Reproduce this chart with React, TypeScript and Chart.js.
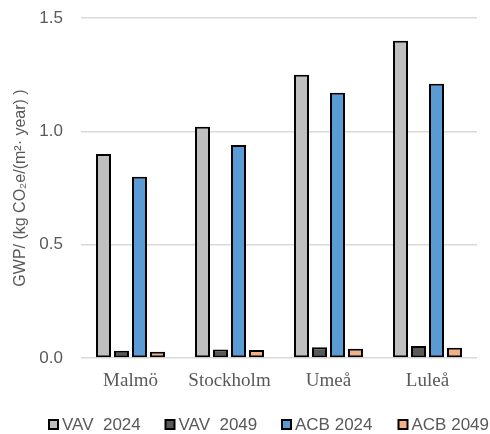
import React, { useEffect, useRef } from "react";
import { Chart, registerables } from "chart.js";

Chart.register(...registerables);

// Cities and GWP per system / year (kg CO2e per m² and year)
const cities = ["Malmö", "Stockholm", "Umeå", "Luleå"];
const seriesNames = ["VAV  2024", "VAV  2049", "ACB 2024", "ACB 2049"];
const vav2024 = [0.9, 1.02, 1.25, 1.4];
const vav2049 = [0.032, 0.037, 0.047, 0.053];
const acb2024 = [0.8, 0.94, 1.17, 1.21];
const acb2049 = [0.028, 0.035, 0.041, 0.045];
const seriesColors = ["#BFBFBF", "#595959", "#5B9BD5", "#F4B183"];
const yTicks = [0, 0.5, 1.0, 1.5];

const TEXT = "#595959";
const SANS = "'Liberation Sans', Arial, sans-serif";
const SERIF = "'Liberation Serif', 'Times New Roman', serif";

// Legend drawn on the canvas: square swatch with black outline, equal-width items
const boxLegend = {
  id: "boxLegend",
  afterDraw(chart: any) {
    const { ctx } = chart;
    const step = 116.5;
    const startX = 48;
    const cy = 424.5;
    ctx.save();
    ctx.font = `17px ${SANS}`;
    ctx.textBaseline = "middle";
    ctx.textAlign = "left";
    chart.data.datasets.forEach((ds: any, i: number) => {
      const x = startX + i * step;
      ctx.fillStyle = ds.backgroundColor;
      ctx.fillRect(x + 1, cy - 4.5, 9, 9);
      ctx.lineWidth = 2;
      ctx.strokeStyle = "#000000";
      ctx.strokeRect(x + 1, cy - 4.5, 9, 9);
      ctx.fillStyle = TEXT;
      ctx.fillText(ds.label, x + 14, cy + 0.5);
    });
    ctx.restore();
  },
};

export default function App() {
  const ref = useRef<HTMLCanvasElement | null>(null);

  useEffect(() => {
    if (!ref.current) return;
    const values = [vav2024, vav2049, acb2024, acb2049];
    const chart = new Chart(ref.current, {
      type: "bar",
      data: {
        labels: cities,
        datasets: values.map((v, i) => ({
          label: seriesNames[i],
          data: v,
          backgroundColor: seriesColors[i],
          borderColor: "#000000",
          borderWidth: 2,
          borderSkipped: false,
          categoryPercentage: 0.727,
          barPercentage: 0.833,
        })),
      },
      options: {
        responsive: false,
        animation: false,
        layout: { padding: { top: 18, right: 13, bottom: 0, left: 0 } },
        plugins: {
          legend: { display: false },
          tooltip: { enabled: false },
        },
        scales: {
          x: {
            grid: { display: false, drawTicks: false },
            border: { display: false },
            ticks: {
              color: TEXT,
              font: { family: SERIF, size: 19 },
              padding: 12,
            },
            afterFit: (s: any) => {
              s.height = 76;
            },
          },
          y: {
            min: 0,
            max: 1.5,
            afterBuildTicks: (s: any) => {
              s.ticks = yTicks.map((v) => ({ value: v }));
            },
            grid: { color: "#D9D9D9", lineWidth: 1.5, drawTicks: false },
            border: { display: false },
            ticks: {
              color: TEXT,
              font: { family: SANS, size: 17 },
              padding: 18,
              callback: (v: any) => Number(v).toFixed(1),
            },
            title: {
              display: true,
              text: "GWP/ (kg CO₂e/(m²· year) )",
              color: TEXT,
              font: { family: SANS, size: 16 },
              padding: { top: 11, bottom: 0 },
            },
            afterFit: (s: any) => {
              s.width = 81;
              s.paddingTop = 0;
              s.paddingBottom = 0;
            },
          },
        },
      },
      plugins: [boxLegend],
    });
    return () => chart.destroy();
  }, []);

  return (
    <div style={{ position: "fixed", left: 0, top: 0, width: 490, height: 434, background: "#fff" }}>
      <canvas ref={ref} width={490} height={434} style={{ display: "block" }} />
    </div>
  );
}
